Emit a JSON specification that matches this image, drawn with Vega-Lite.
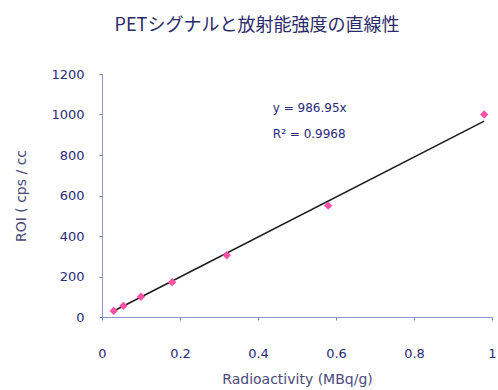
{
  "$schema": "https://vega.github.io/schema/vega-lite/v6.json",
  "autosize": "none",
  "width": 390,
  "height": 243,
  "padding": {"left": 102, "top": 74, "right": 6, "bottom": 73},
  "background": "white",
  "title": {
    "text": "PETシグナルと放射能強度の直線性",
    "font": "Noto Sans CJK JP",
    "fontSize": 18,
    "fontWeight": "normal",
    "color": "#2a2a6a",
    "anchor": "middle",
    "frame": "group",
    "dx": -40,
    "offset": 33
  },
  "config": {
    "view": {"stroke": null},
    "axis": {
      "grid": false,
      "domainColor": "#8a9ad0",
      "tickColor": "#6a7ab0",
      "tickSize": 3,
      "labelFont": "DejaVu Sans",
      "labelFontSize": 13,
      "labelColor": "#2a2a7a",
      "titleFont": "DejaVu Sans",
      "titleFontSize": 14,
      "titleFontWeight": "normal",
      "titleColor": "#4a4a7a"
    }
  },
  "datasets": {
    "pts": [
      {"x": 0.03, "y": 30},
      {"x": 0.055, "y": 55},
      {"x": 0.1, "y": 100},
      {"x": 0.18, "y": 172},
      {"x": 0.32, "y": 305},
      {"x": 0.58, "y": 550},
      {"x": 0.98, "y": 1000}
    ],
    "fit": [
      {"x": 0.03, "y": 29.6},
      {"x": 0.98, "y": 967.2}
    ],
    "ann": [
      {"x": 0.438, "y": 1030, "t": "y = 986.95x"},
      {"x": 0.438, "y": 905, "t": "R² = 0.9968"}
    ]
  },
  "layer": [
    {
      "data": {"name": "fit"},
      "mark": {"type": "line", "color": "#1a1a1a", "strokeWidth": 1.5, "clip": false},
      "encoding": {
        "x": {
          "field": "x", "type": "quantitative",
          "scale": {"domain": [0, 1], "nice": false},
          "axis": {"values": [0, 0.2, 0.4, 0.6, 0.8, 1], "format": "~g", "labelPadding": 27, "title": "Radioactivity (MBq/g)", "titlePadding": 12, "labelFlush": false}
        },
        "y": {
          "field": "y", "type": "quantitative",
          "scale": {"domain": [0, 1200], "nice": false},
          "axis": {"values": [0, 200, 400, 600, 800, 1000, 1200], "format": "d", "labelPadding": 15, "title": "ROI ( cps / cc", "titlePadding": 22}
        }
      }
    },
    {
      "data": {"name": "pts"},
      "mark": {"type": "point", "shape": "diamond", "filled": true, "color": "#ff4fa8", "size": 70, "opacity": 1},
      "encoding": {
        "x": {"field": "x", "type": "quantitative"},
        "y": {"field": "y", "type": "quantitative"}
      }
    },
    {
      "data": {"name": "ann"},
      "mark": {"type": "text", "align": "left", "font": "DejaVu Sans", "fontSize": 12, "color": "#2a2a7a"},
      "encoding": {
        "x": {"field": "x", "type": "quantitative"},
        "y": {"field": "y", "type": "quantitative"},
        "text": {"field": "t"}
      }
    }
  ]
}
